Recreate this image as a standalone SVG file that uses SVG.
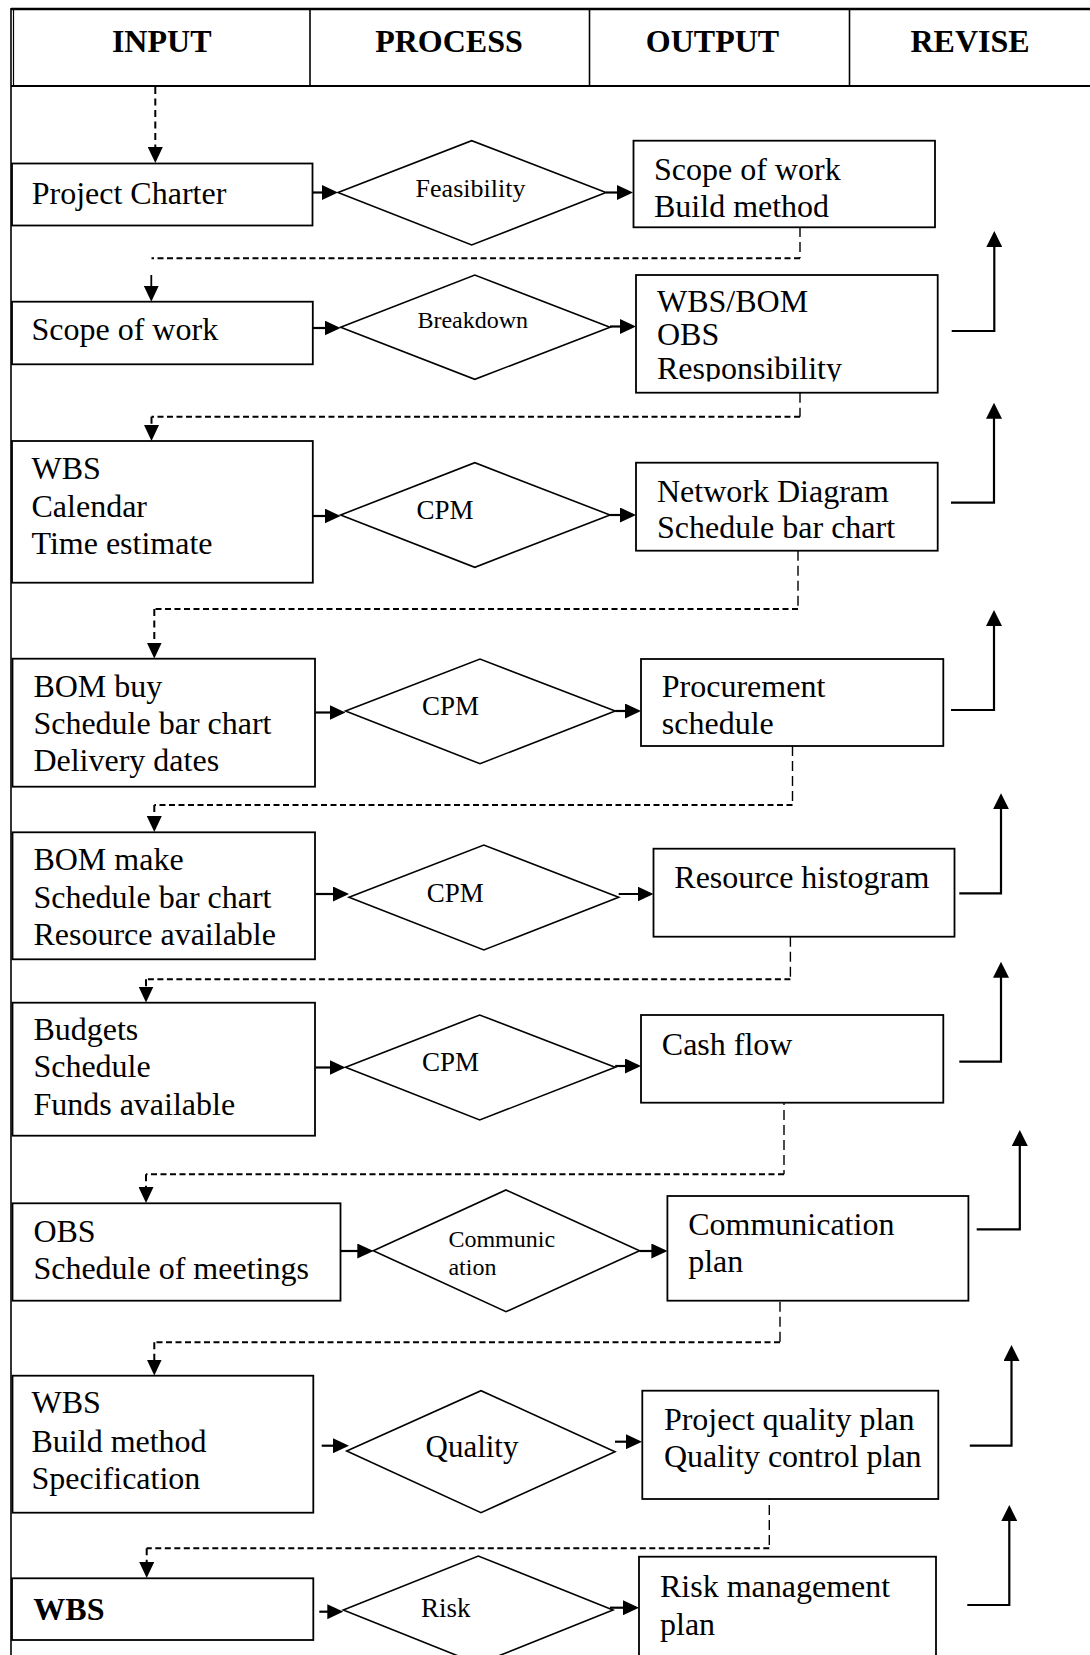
<svg xmlns="http://www.w3.org/2000/svg" width="1090" height="1655" viewBox="0 0 1090 1655">
<style>
  text { font-family: "Liberation Serif", "Times New Roman", serif; fill: #000; }
  .hd { font-size: 32px; font-weight: bold; text-anchor: middle; }
  .t { font-size: 32px; }
  .tb { font-size: 32px; font-weight: bold; }
  .d { font-size: 26px; text-anchor: middle; }
  .box { fill: #fff; stroke: #000; stroke-width: 1.8; }
  .dia { fill: #fff; stroke: #000; stroke-width: 1.6; }
  .frame { stroke: #000; fill: none; }
  .arr { stroke: #000; stroke-width: 2.2; fill: none; marker-end: url(#ah); }
  .rev { stroke: #000; stroke-width: 2.2; fill: none; marker-end: url(#ah2); }
  .dv { stroke: #000; stroke-width: 1.4; fill: none; stroke-dasharray: 10 5; }
  .dh { stroke: #000; stroke-width: 2; fill: none; stroke-dasharray: 6 3.5; }
  .dd { stroke: #000; stroke-width: 2; fill: none; stroke-dasharray: 7 4.5; marker-end: url(#ah); }
  .sd { stroke: #000; stroke-width: 1.8; fill: none; marker-end: url(#ah); }
</style>
<defs>
  <marker id="ah" markerUnits="userSpaceOnUse" markerWidth="16" markerHeight="15" refX="13" refY="7.5" orient="auto">
    <path d="M0,0 L16,7.5 L0,15 Z" fill="#000"/>
  </marker>
  <marker id="ah2" markerUnits="userSpaceOnUse" markerWidth="16" markerHeight="16" refX="13" refY="8" orient="auto">
    <path d="M0,0 L16,8 L0,16 Z" fill="#000"/>
  </marker>
  <clipPath id="clipResp"><rect x="636" y="275" width="302" height="106.5"/></clipPath>
</defs>
<rect x="0" y="0" width="1090" height="1655" fill="#fff"/>

<g id="header">
  <line class="frame" x1="11" y1="9" x2="1090" y2="9" stroke-width="2.6"/>
  <line class="frame" x1="11" y1="86" x2="1090" y2="86" stroke-width="2"/>
  <line class="frame" x1="11" y1="8" x2="11" y2="1655" stroke-width="1.6"/>
  <line class="frame" x1="13.5" y1="9" x2="13.5" y2="86" stroke-width="1.2"/>
  <line class="frame" x1="310" y1="9" x2="310" y2="86" stroke-width="1.6"/>
  <line class="frame" x1="589.5" y1="9" x2="589.5" y2="86" stroke-width="1.6"/>
  <line class="frame" x1="849.5" y1="9" x2="849.5" y2="86" stroke-width="1.6"/>
  <text class="hd" x="161.7" y="52">INPUT</text>
  <text class="hd" x="449" y="52">PROCESS</text>
  <text class="hd" x="712.5" y="52">OUTPUT</text>
  <text class="hd" x="970" y="52">REVISE</text>
</g>

<g id="connectors">
  <line class="dd" x1="155.3" y1="87" x2="155.3" y2="160"/>
  <line class="arr" x1="313" y1="192.5" x2="335" y2="192.5"/>
  <line class="arr" x1="606" y1="192.5" x2="630" y2="192.5"/>
  <path class="dv" d="M800,227 V258.3"/>
  <path class="dh" d="M800,258.3 H151.5"/>
  <line class="sd" x1="151.3" y1="275" x2="151.3" y2="298.7"/>
  <line class="arr" x1="313" y1="328" x2="337.6" y2="328"/>
  <line class="arr" x1="610" y1="326.5" x2="633" y2="326.5"/>
  <path class="dv" d="M800,392.7 V416.7"/>
  <path class="dh" d="M800,416.7 H151.5"/>
  <path class="dd" d="M151.5,416.7 V438"/>
  <polyline class="rev" points="951.7,331 994.3,331 994.3,234"/>
  <line class="arr" x1="313" y1="516" x2="337.6" y2="516"/>
  <line class="arr" x1="610" y1="515" x2="633" y2="515"/>
  <path class="dv" d="M798,550.7 V609"/>
  <path class="dh" d="M798,609 H154.3"/>
  <path class="dd" d="M154.3,609 V655.5"/>
  <polyline class="rev" points="951,502.7 994,502.7 994,405.7"/>
  <line class="arr" x1="315.5" y1="712.5" x2="342.5" y2="712.5"/>
  <line class="arr" x1="615.2" y1="711" x2="638" y2="711"/>
  <path class="dv" d="M792.5,746 V805"/>
  <path class="dh" d="M792.5,805 H154.3"/>
  <path class="dd" d="M154.3,805 V829"/>
  <polyline class="rev" points="951,710 994,710 994,613"/>
  <line class="arr" x1="315.5" y1="894" x2="346" y2="894"/>
  <line class="arr" x1="618.7" y1="894" x2="650.5" y2="894"/>
  <path class="dv" d="M790.4,936.7 V979.3"/>
  <path class="dh" d="M790.4,979.3 H146"/>
  <path class="dd" d="M146,979.3 V999.5"/>
  <polyline class="rev" points="959.3,893.3 1001,893.3 1001,796.3"/>
  <line class="arr" x1="315.5" y1="1067.5" x2="342.5" y2="1067.5"/>
  <line class="arr" x1="615.2" y1="1066" x2="638" y2="1066"/>
  <path class="dv" d="M784,1095 V1174.3"/>
  <path class="dh" d="M784,1174.3 H146"/>
  <path class="dd" d="M146,1174.3 V1200"/>
  <polyline class="rev" points="959.3,1061.7 1001,1061.7 1001,964.7"/>
  <line class="arr" x1="341" y1="1251" x2="370.3" y2="1251"/>
  <line class="arr" x1="639.6" y1="1251" x2="664.4" y2="1251"/>
  <path class="dv" d="M780,1286.7 V1342.3"/>
  <path class="dh" d="M780,1342.3 H154.3"/>
  <path class="dd" d="M154.3,1342.3 V1372.5"/>
  <polyline class="rev" points="976.7,1229.3 1019.8,1229.3 1019.8,1133"/>
  <line class="arr" x1="321.7" y1="1445.7" x2="346" y2="1445.7"/>
  <line class="arr" x1="615" y1="1441.7" x2="639" y2="1441.7"/>
  <path class="dv" d="M769.3,1490 V1548.3"/>
  <path class="dh" d="M769.3,1548.3 H146.7"/>
  <path class="dd" d="M146.7,1548.3 V1575"/>
  <polyline class="rev" points="969.8,1445.7 1011.5,1445.7 1011.5,1348"/>
  <line class="arr" x1="319.3" y1="1611.7" x2="340.3" y2="1611.7"/>
  <line class="arr" x1="610" y1="1607.7" x2="636" y2="1607.7"/>
  <polyline class="rev" points="967.3,1605 1009.3,1605 1009.3,1508"/>
</g>

<g id="in1"><rect class="box" x="12" y="163.5" width="300.5" height="62"/><text class="t" x="31.7" y="204">Project Charter</text></g>
<g id="pr1"><polygon class="dia" points="338,192.5 471.7,140.7 606,192.5 471.7,245"/><text class="d" x="470.5" y="197">Feasibility</text></g>
<g id="out1"><rect class="box" x="633.5" y="140.7" width="301.5" height="86.6"/><text class="t" x="654" y="180">Scope of work</text><text class="t" x="654" y="216.7">Build method</text></g>

<g id="in2"><rect class="box" x="12" y="301.7" width="300.8" height="62.6"/><text class="t" x="31.5" y="340">Scope of work</text></g>
<g id="pr2"><polygon class="dia" points="340.6,327.3 474.8,275 610,327.3 474.8,379.3"/><text class="d" x="472.7" y="328.3" style="font-size:24px">Breakdown</text></g>
<g id="out2"><rect class="box" x="636" y="275" width="301.7" height="117.7"/><text class="t" x="657" y="311.7">WBS/BOM</text><text class="t" x="657" y="345">OBS</text><text class="t" x="657" y="379.3" clip-path="url(#clipResp)">Responsibility</text></g>

<g id="in3"><rect class="box" x="12" y="441" width="300.8" height="141.7"/><text class="t" x="31.5" y="479.3">WBS</text><text class="t" x="31.5" y="516.7">Calendar</text><text class="t" x="31.5" y="554">Time estimate</text></g>
<g id="pr3"><polygon class="dia" points="340.6,515 474.8,462.7 610,515 474.8,567.3"/><text class="d" x="445" y="519.3" style="font-size:27px">CPM</text></g>
<g id="out3"><rect class="box" x="636" y="462.7" width="301.7" height="88"/><text class="t" x="657" y="501.7">Network Diagram</text><text class="t" x="657" y="537.7">Schedule bar chart</text></g>

<g id="in4"><rect class="box" x="12.5" y="658.7" width="302.5" height="128"/><text class="t" x="33.4" y="697.3">BOM buy</text><text class="t" x="33.4" y="734">Schedule bar chart</text><text class="t" x="33.4" y="770.7">Delivery dates</text></g>
<g id="pr4"><polygon class="dia" points="345.5,711 480,659 615.2,711 480,763.7"/><text class="d" x="450.5" y="715" style="font-size:27px">CPM</text></g>
<g id="out4"><rect class="box" x="641" y="659" width="302.3" height="87"/><text class="t" x="661.8" y="697.3">Procurement</text><text class="t" x="661.8" y="734.3">schedule</text></g>

<g id="in5"><rect class="box" x="12.5" y="832.3" width="302.5" height="127"/><text class="t" x="33.4" y="870">BOM make</text><text class="t" x="33.4" y="908.3">Schedule bar chart</text><text class="t" x="33.4" y="945">Resource available</text></g>
<g id="pr5"><polygon class="dia" points="349,897.3 483.8,845 618.7,897.3 483.8,950"/><text class="d" x="455.3" y="901.7" style="font-size:27px">CPM</text></g>
<g id="out5"><rect class="box" x="653.5" y="848.7" width="301" height="88"/><text class="t" x="674.3" y="888.3">Resource histogram</text></g>

<g id="in6"><rect class="box" x="12.5" y="1002.7" width="302.5" height="133"/><text class="t" x="33.4" y="1040">Budgets</text><text class="t" x="33.4" y="1076.7">Schedule</text><text class="t" x="33.4" y="1115">Funds available</text></g>
<g id="pr6"><polygon class="dia" points="345.5,1067.3 479.7,1015 615.2,1067.3 479.7,1120"/><text class="d" x="450.5" y="1070.7" style="font-size:27px">CPM</text></g>
<g id="out6"><rect class="box" x="641" y="1015" width="302.3" height="87.7"/><text class="t" x="661.8" y="1055">Cash flow</text></g>

<g id="in7"><rect class="box" x="12.5" y="1203.3" width="328" height="97.4"/><text class="t" x="33.4" y="1241.7">OBS</text><text class="t" x="33.4" y="1279.3">Schedule of meetings</text></g>
<g id="pr7"><polygon class="dia" points="373.3,1250.7 506,1190 639.6,1250.7 506,1311.7"/><text x="448.4" y="1246.7" style="font-size:24px">Communic</text><text x="448.4" y="1275" style="font-size:24px">ation</text></g>
<g id="out7"><rect class="box" x="667.4" y="1196" width="301" height="104.7"/><text class="t" x="688.2" y="1235">Communication</text><text class="t" x="688.2" y="1271.7">plan</text></g>

<g id="in8"><rect class="box" x="12.5" y="1375.7" width="300.8" height="137"/><text class="t" x="31.5" y="1413.3">WBS</text><text class="t" x="31.5" y="1451.7">Build method</text><text class="t" x="31.5" y="1489">Specification</text></g>
<g id="pr8"><polygon class="dia" points="346.7,1451 481,1390.7 615,1451.7 481,1512.7"/><text class="d" x="472" y="1457.3" style="font-size:31px">Quality</text></g>
<g id="out8"><rect class="box" x="642.3" y="1390.7" width="296" height="108.3"/><text class="t" x="663.9" y="1430">Project quality plan</text><text class="t" x="663.9" y="1466.7">Quality control plan</text></g>

<g id="in9"><rect class="box" x="12" y="1578.3" width="301.3" height="61.7"/><text class="tb" x="33.3" y="1620">WBS</text></g>
<g id="pr9"><polygon class="dia" points="343.3,1610 478.3,1556 613,1610 478.3,1664"/><text class="d" x="445.8" y="1617" style="font-size:27px">Risk</text></g>
<g id="out9"><rect class="box" x="639" y="1556.7" width="297" height="120"/><text class="t" x="660" y="1596.7">Risk management</text><text class="t" x="660" y="1635">plan</text></g>
</svg>
